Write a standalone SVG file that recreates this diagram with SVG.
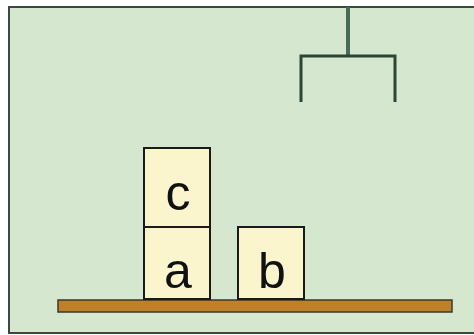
<svg xmlns="http://www.w3.org/2000/svg" width="474" height="335" viewBox="0 0 474 335">
<style>
.blk{fill:#faf5cc;stroke:#1a1a1a;stroke-width:2}
.lbl{font-family:"Liberation Sans",Arial,sans-serif;font-size:50px;fill:#111;text-anchor:middle}
.arm{fill:none;stroke:#2c4535;stroke-width:3}
</style>
<rect x="0" y="0" width="474" height="335" fill="#ffffff"/>
<rect x="9" y="7" width="470" height="326" fill="#d5e8cf" stroke="#3a4a3e" stroke-width="2"/>
<g id="hanger">
<line x1="348" y1="7" x2="348" y2="56" stroke="#4a6b55" stroke-width="4"/>
<path class="arm" d="M301,102 V56 H395 V102"/>
</g>
<g id="table">
<rect x="58" y="300" width="394" height="12" fill="#c07f2a" stroke="#3a3a2a" stroke-width="1.5"/>
</g>
<g id="block-c">
<rect class="blk" x="144" y="148" width="66" height="79"/>
<text class="lbl" x="178" y="210">c</text>
</g>
<g id="block-a">
<rect class="blk" x="144" y="227" width="66" height="72"/>
<text class="lbl" x="178" y="288">a</text>
</g>
<g id="block-b">
<rect class="blk" x="238" y="227" width="66" height="72"/>
<text class="lbl" x="272" y="288">b</text>
</g>
<g id="connectors"></g>
</svg>
